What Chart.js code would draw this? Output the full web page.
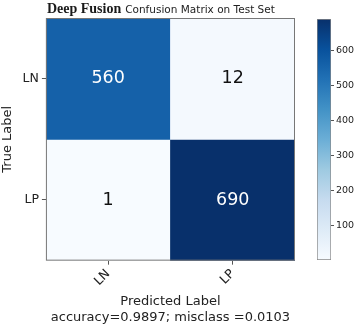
<!DOCTYPE html>
<html>
<head>
<meta charset="utf-8">
<script src="https://cdn.jsdelivr.net/npm/chart.js@4"></script>
<style>
  html, body { margin: 0; padding: 0; background: #fff; }
  #wrap { position: relative; width: 360px; height: 326px; }
  #matrix { position: absolute; left: 0; top: 0; }
  #colorbar { position: absolute; left: 300px; top: 0; }
</style>
</head>
<body>
<div id="wrap">
  <canvas id="matrix" width="360" height="326"></canvas>
  <canvas id="colorbar" width="60" height="326"></canvas>
</div>
<script>
// --- datos de la matriz ---
const trueLabels = ['LN', 'LP'];
const predLabels = ['LN', 'LP'];
const rowLN = [560, 12];
const rowLP = [1, 690];
const colorbarTicks = [100, 200, 300, 400, 500, 600];
const accuracyText = 'accuracy=0.9897; misclass =0.0103';

const counts = [rowLN, rowLP];
const allValues = counts.flat();
const vMin = Math.min(...allValues);
const vMax = Math.max(...allValues);

// matplotlib "Blues"
const blues = ['#f7fbff', '#deebf7', '#c6dbef', '#9ecae1', '#6baed6', '#4292c6', '#2171b5', '#08519c', '#08306b'];

const hexToRgb = (h) => [1, 3, 5].map(i => parseInt(h.slice(i, i + 2), 16));
const bluesColor = (t) => {
    t = Math.max(0, Math.min(1, t));
    const pos = t * (blues.length - 1);
    const i = Math.min(Math.floor(pos), blues.length - 2);
    const f = pos - i;
    const a = hexToRgb(blues[i]), b = hexToRgb(blues[i + 1]);
    const c = a.map((v, k) => Math.round(v + (b[k] - v) * f));
    return `rgb(${c[0]}, ${c[1]}, ${c[2]})`;
};
const colorFor = (v) => bluesColor((v - vMin) / (vMax - vMin));

const textColor = '#222';
const fontFamily = "'DejaVu Sans', sans-serif";

// --- plugin: titulo con dos fuentes, borde y numeros en las celdas ---
const matrixDecor = {
    id: 'matrixDecor',
    afterDatasetsDraw(chart) {
        const ctx = chart.ctx;
        ctx.save();
        ctx.textAlign = 'center';
        ctx.textBaseline = 'middle';
        ctx.font = `17.5px ${fontFamily}`;
        chart.data.datasets.forEach((ds, di) => {
            const meta = chart.getDatasetMeta(di);
            meta.data.forEach((el, j) => {
                const v = counts[di][j];
                ctx.fillStyle = v > vMax / 2 ? '#fff' : '#111';
                ctx.fillText(String(v), el.x, (el.y + el.base) / 2);
            });
        });
        ctx.restore();
    },
    afterDraw(chart) {
        const { ctx, chartArea: a } = chart;
        ctx.save();
        ctx.strokeStyle = '#777';
        ctx.lineWidth = 1;
        ctx.strokeRect(a.left + 0.5, a.top + 0.5, a.right - a.left - 1, a.bottom - a.top - 1);

        ctx.textBaseline = 'alphabetic';
        ctx.textAlign = 'left';
        ctx.fillStyle = '#1a1a1a';
        ctx.font = "bold 14px 'Liberation Serif', 'DejaVu Serif', serif";
        const first = 'Deep Fusion';
        ctx.fillText(first, a.left + 1, a.top - 5);
        const w = ctx.measureText(first).width;
        ctx.fillStyle = textColor;
        ctx.font = `10.5px ${fontFamily}`;
        ctx.fillText('Confusion Matrix on Test Set', a.left + 1 + w + 4, a.top - 5);
        ctx.restore();
    }
};

new Chart(document.getElementById('matrix'), {
    type: 'bar',
    data: {
        labels: predLabels,
        datasets: trueLabels.map((lab, i) => ({
            label: lab,
            data: predLabels.map(() => [i, i + 1]),
            backgroundColor: counts[i].map(colorFor),
            borderWidth: 0,
            grouped: false,
            barPercentage: 1,
            categoryPercentage: 1
        }))
    },
    options: {
        responsive: false,
        animation: false,
        layout: { padding: { left: 0, top: 18, right: 65, bottom: 1 } },
        plugins: {
            legend: { display: false },
            tooltip: { enabled: false }
        },
        scales: {
            x: {
                offset: true,
                grid: { offset: false, drawOnChartArea: false, drawTicks: true, tickLength: 4, color: '#555' },
                border: { display: false },
                ticks: { color: textColor, font: { family: fontFamily, size: 12.5 }, minRotation: 45, maxRotation: 45, padding: 2 },
                title: {
                    display: true,
                    text: ['Predicted Label', accuracyText],
                    color: textColor,
                    font: { family: fontFamily, size: 13, lineHeight: 1.2 },
                    padding: { top: 3, bottom: 0 }
                }
            },
            y: {
                min: 0,
                max: trueLabels.length,
                reverse: true,
                afterBuildTicks: (scale) => {
                    scale.ticks = trueLabels.map((_, i) => ({ value: i + 0.5 }));
                },
                grid: { drawOnChartArea: false, drawTicks: true, tickLength: 4, color: '#555' },
                border: { display: false },
                ticks: {
                    color: textColor,
                    font: { family: fontFamily, size: 12.5 },
                    padding: 3,
                    callback: (v) => trueLabels[Math.floor(v)]
                },
                title: {
                    display: true,
                    text: 'True Label',
                    color: textColor,
                    font: { family: fontFamily, size: 13 },
                    padding: { top: 0, bottom: 4 }
                }
            }
        }
    },
    plugins: [matrixDecor]
});

// --- barra de color ---
new Chart(document.getElementById('colorbar'), {
    type: 'bar',
    data: {
        labels: [''],
        datasets: [{
            data: [[vMin, vMax]],
            backgroundColor: (c) => {
                const a = c.chart.chartArea;
                if (!a) return blues[4];
                const g = c.chart.ctx.createLinearGradient(0, a.bottom, 0, a.top);
                blues.forEach((col, i) => g.addColorStop(i / (blues.length - 1), col));
                return g;
            },
            borderColor: '#888',
            borderWidth: 1,
            borderSkipped: false,
            barPercentage: 1,
            categoryPercentage: 1
        }]
    },
    options: {
        responsive: false,
        animation: false,
        layout: { padding: { left: 17, top: 19, right: 0, bottom: 66 } },
        plugins: { legend: { display: false }, tooltip: { enabled: false } },
        scales: {
            x: { display: false },
            y: {
                position: 'right',
                min: vMin,
                max: vMax,
                afterBuildTicks: (scale) => {
                    scale.ticks = colorbarTicks.map(v => ({ value: v }));
                },
                afterFit: (scale) => { scale.width = 29; },
                grid: { drawOnChartArea: false, drawTicks: true, tickLength: 3, color: '#555' },
                border: { display: false },
                ticks: { color: textColor, font: { family: fontFamily, size: 9.5 }, padding: 2 }
            }
        }
    }
});
</script>
</body>
</html>
